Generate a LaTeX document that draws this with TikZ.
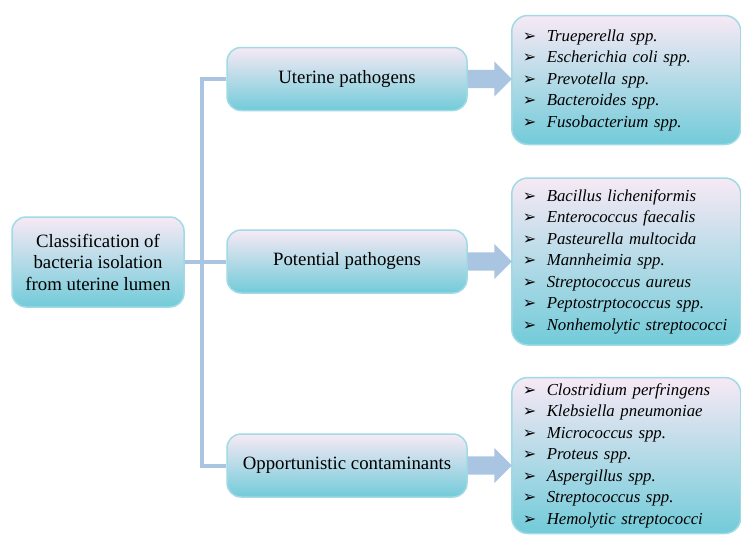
\documentclass[tikz,border=0pt]{standalone}
\usepackage{fontspec}
\setmainfont{Liberation Serif}
\newfontfamily\dingfont{DejaVu Sans}
\usepackage{tikz}
\usetikzlibrary{shapes, arrows, positioning, calc}

\definecolor{boxtop}{HTML}{F7E9F5}
\definecolor{boxmid}{HTML}{C2E9EF}
\definecolor{boxbot}{HTML}{72CBD9}
\definecolor{boxline}{HTML}{9FDAE5}
\definecolor{linkblue}{HTML}{A9C5E2}

\newcommand{\bul}{\makebox[24pt][l]{\upshape\dingfont\fontsize{16}{16}\selectfont ➢}}

\begin{document}
\begin{tikzpicture}[
  x=1pt, y=-1pt,
  boxbase/.style={draw=boxline, line width=1.5pt, rounded corners=14pt, top color=boxtop, middle color=boxmid, bottom color=boxbot, inner sep=0pt},
  rootnode/.style={boxbase, minimum width=172pt, minimum height=90pt, align=center, font=\fontsize{18.8}{21.5}\selectfont},
  catnode/.style={boxbase, minimum width=240pt, minimum height=63pt, font=\fontsize{18.8}{21.5}\selectfont},
  listnode/.style={boxbase, rounded corners=16pt, text width=207pt, inner xsep=11pt, align=left, font=\fontsize{16.8}{21.5}\selectfont\itshape},
  link/.style={draw=linkblue, line width=4pt},
  bigarrow/.style={single arrow, fill=linkblue, draw=none, inner sep=0pt, text width=0pt, text height=9pt, text depth=9pt, minimum height=44pt, single arrow head extend=8.5pt}
]
\useasboundingbox (0,0) rectangle (741,538);

% nodes
\node[rootnode] (root) at (98,262) {Classification of\\bacteria isolation\\from uterine lumen};
\node[catnode] (uter) at (347,79)    {Uterine pathogens};
\node[catnode] (pot)  at (347,261.5) {Potential pathogens};
\node[catnode] (opp)  at (347,465.5) {Opportunistic contaminants};

% species lists
\node[listnode, minimum height=129pt, anchor=west] (uterlist) at (511,80)
  {\bul Trueperella spp.\\
   \bul Escherichia coli spp.\\
   \bul Prevotella spp.\\
   \bul Bacteroides spp.\\
   \bul Fusobacterium spp.};
\node[listnode, minimum height=167pt, anchor=west] (potlist) at (511,261.5)
  {\bul Bacillus licheniformis\\
   \bul Enterococcus faecalis\\
   \bul Pasteurella multocida\\
   \bul Mannheimia spp.\\
   \bul Streptococcus aureus\\
   \bul Peptostrptococcus spp.\\
   \bul Nonhemolytic streptococci};
\node[listnode, minimum height=156pt, anchor=west] (opplist) at (511,455.5)
  {\bul Clostridium perfringens\\
   \bul Klebsiella pneumoniae\\
   \bul Micrococcus spp.\\
   \bul Proteus spp.\\
   \bul Aspergillus spp.\\
   \bul Streptococcus spp.\\
   \bul Hemolytic streptococci};

% tree links
\draw[link] (uter.west) -- ++(-24,0) |- (opp.west);
\draw[link] (root.east) -- (root.east -| pot.west);

% block arrows
\node[bigarrow, anchor=west] (arr1) at (uter.east) {};
\node[bigarrow, anchor=west] (arr2) at (pot.east)  {};
\node[bigarrow, anchor=west] (arr3) at (opp.east)  {};

\end{tikzpicture}
\end{document}
